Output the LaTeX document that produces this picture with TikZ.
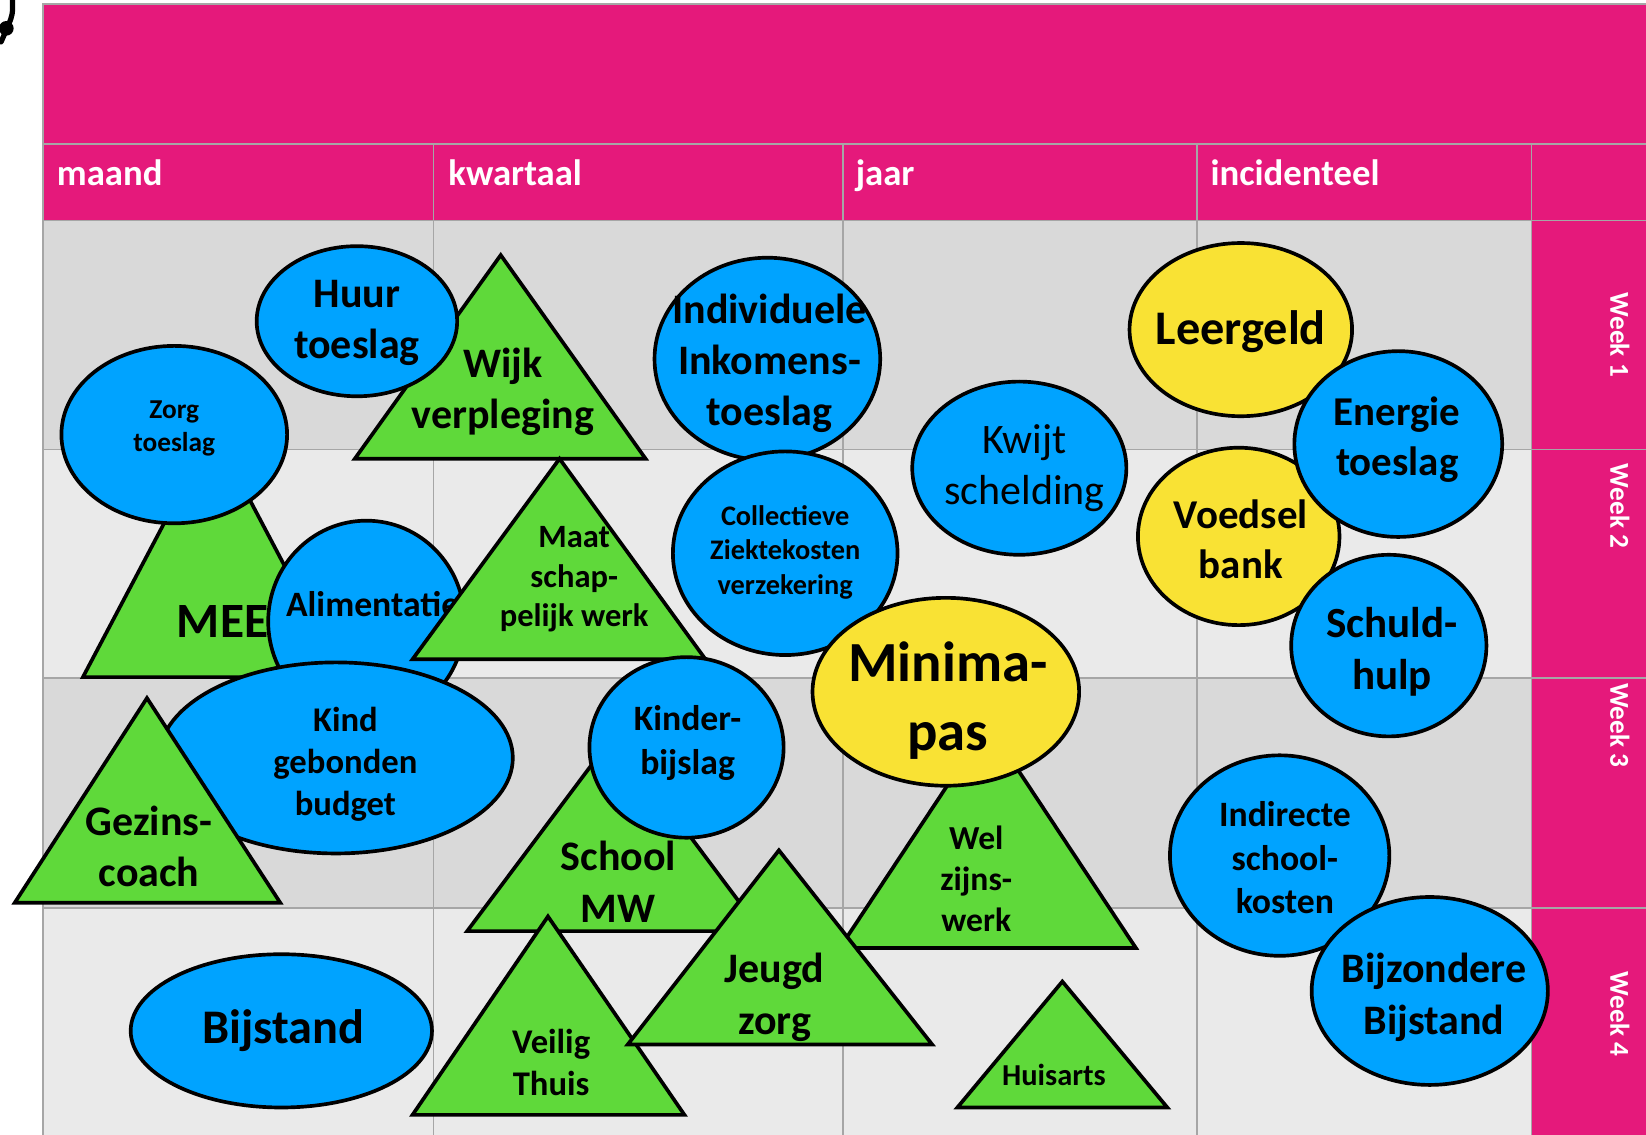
\documentclass[tikz,border=0pt]{standalone}
\usepackage{fontspec}
\setmainfont{Carlito}
\usepackage{xcolor}
\usetikzlibrary{shapes.geometric}
\definecolor{roze}{HTML}{E5197B}
\definecolor{blauw}{HTML}{00A3FF}
\definecolor{groen}{HTML}{5FD93A}
\definecolor{geel}{HTML}{F9E234}
\definecolor{lijn}{HTML}{A6A6A6}
\definecolor{donker}{HTML}{D9D9D9}
\definecolor{licht}{HTML}{EAEAEA}

\begin{document}
\begin{tikzpicture}[x=1pt, y=-1pt,
    rond/.style={ellipse, draw=black, line width=3.5pt, fill=blauw, inner sep=0pt},
    geelrond/.style={rond, fill=geel},
    drie/.style={draw=black, line width=3.5pt, fill=groen},
    lbl/.style={align=center, inner sep=0pt, font=\bfseries\fontsize{#1}{\fpeval{1.22*#1}}\selectfont},
    kop/.style={anchor=base west, inner sep=0pt, text=white, font=\bfseries\fontsize{35}{42}\selectfont},
    week/.style={rotate=-90, text=white, font=\bfseries\fontsize{26}{31}\selectfont}]
        \useasboundingbox (0,0) rectangle (1568,1081);
        % achtergrond en raster
        \fill[roze] (41,4) rectangle (1568,210);
        \fill[roze] (1459,210) rectangle (1568,1081);
        \fill[donker] (41,210) rectangle (1459,428);
        \fill[licht] (41,428) rectangle (1459,646);
        \fill[donker] (41,646) rectangle (1459,865);
        \fill[licht] (41,865) rectangle (1459,1081);
        \draw[lijn, line width=1.5pt] (41,1081) -- (41,4) -- (1568,4);
        \foreach \y in {137,210,428,646,865} \draw[lijn, line width=1.5pt] (41,\y) -- (1568,\y);
        \foreach \x in {413,803,1140,1459} \draw[lijn, line width=1.5pt] (\x,137) -- (\x,1081);
        \draw[line width=5pt, line cap=round] (12,0) .. controls (12,14) .. (8,24) -- (1,40);
        \fill (6,27) circle (7);
        % kolommen
        \node[kop] (maand) at (54,177) {maand};
        \node[kop] (kwartaal) at (427,177) {kwartaal};
        \node[kop] (jaar) at (815,177) {jaar};
        \node[kop] (incidenteel) at (1153,177) {incidenteel};
        % weken
        \node[week] (week1) at (1543,319) {Week 1};
        \node[week] (week2) at (1543,482) {Week 2};
        \node[week] (week3) at (1543,691) {Week 3};
        \node[week] (week4) at (1543,966) {Week 4};
        % maand
        \filldraw[drie] (203,410) -- (327,645) -- (79,645) -- cycle;                        % MEE
        \node[lbl=47] (mee) at (212,592) {MEE};
        \node[rond, minimum width=215, minimum height=169] (zorg) at (166,414) {};
        \node[lbl=26] (zorg-t) at (166,408) {Zorg\\toeslag};
        \filldraw[drie] (477,243) -- (615,437) -- (338,437) -- cycle;                       % Wijk verpleging
        \node[rond, minimum width=191, minimum height=143] (huur) at (340,306) {};
        \node[lbl=40] (huur-t) at (340,308) {Huur\\toeslag};
        \node[lbl=40] (wijk) at (479,373) {Wijk\\verpleging};
        \node[rond, minimum width=187, minimum height=192] (alim) at (349,592) {};
        \node[lbl=34] (alim-t) at (355,575) {Alimentatie};
        \node[rond, minimum width=337, minimum height=182] (kind) at (320,722) {};
        \node[lbl=33] (kind-t) at (329,728) {Kind\\gebonden\\budget};
        \filldraw[drie] (533,437) -- (672,628) -- (393,628) -- cycle;                       % Maatschappelijk werk
        \node[lbl=31] (maat) at (547,552) {Maat\\schap-\\pelijk werk};
        \filldraw[drie] (140,665) -- (267,860) -- (14,860) -- cycle;                        % Gezinscoach
        \node[lbl=40] (gezins) at (142,806) {Gezins-\\coach};
        \node[rond, minimum width=287, minimum height=146] (bijstand) at (268,982) {};
        \node[lbl=46] (bijstand-t) at (270,982) {Bijstand};
        % kwartaal
        \node[rond, minimum width=215, minimum height=193] (indiv) at (731,342) {};
        \node[lbl=40] (indiv-t) at (733,346) {Individuele\\Inkomens-\\toeslag};
        \node[rond, minimum width=214, minimum height=194] (zkv) at (748,527) {};
        \node[lbl=27] (zkv-t) at (748,526) {Collectieve\\Ziektekosten\\verzekering};
        \filldraw[drie] (941,690) -- (1082,903) -- (800,903) -- cycle;                      % Welzijnswerk
        \node[geelrond, minimum width=254, minimum height=179] (minima) at (901,659) {};
        \node[lbl=54] (minima-t) at (903,667) {Minima-\\pas};
        \node[lbl=32] (welzijn) at (930,837) {Wel\\zijns-\\werk};
        \filldraw[drie] (585,700) -- (725,887) -- (445,887) -- cycle;                       % School MW
        \node[lbl=40] (school) at (589,840) {School\\MW};
        \node[rond, minimum width=185, minimum height=172] (kinder) at (654,712) {};
        \node[lbl=34] (kinder-t) at (655,708) {Kinder-\\bijslag};
        \filldraw[drie] (522,873) -- (652,1062) -- (393,1062) -- cycle;                     % Veilig Thuis
        \node[lbl=33] (veilig) at (525,1012) {Veilig\\Thuis};
        \filldraw[drie] (742,810) -- (888,995) -- (598,995) -- cycle;                       % Jeugdzorg
        \node[lbl=40] (jeugd) at (738,950) {Jeugd\\zorg};
        % jaar en incidenteel
        \filldraw[drie] (1012,935) -- (1112,1055) -- (912,1055) -- cycle;                   % Huisarts
        \node[lbl=29] (huisarts) at (1004,1024) {Huisarts};
        \node[rond, minimum width=204, minimum height=165] (kwijt) at (971,446) {};
        \node[lbl=40, font=\fontsize{40}{49}\selectfont] (kwijt-t) at (976,446) {Kwijt\\schelding};
        \node[geelrond, minimum width=212, minimum height=165] (leergeld) at (1182,314) {};
        \node[lbl=46] (leergeld-t) at (1182,316) {Leergeld};
        \node[geelrond, minimum width=192, minimum height=169] (voedsel) at (1180,511) {};
        \node[lbl=39] (voedsel-t) at (1182,514) {Voedsel\\bank};
        \node[rond, minimum width=198, minimum height=177] (energie) at (1332,423) {};
        \node[lbl=39] (energie-t) at (1331,419) {Energie\\toeslag};
        \node[rond, minimum width=186, minimum height=173] (schuld) at (1323,615) {};
        \node[lbl=41] (schuld-t) at (1326,621) {Schuld-\\hulp};
        \node[rond, minimum width=209, minimum height=191] (indirect) at (1219,815) {};
        \node[lbl=34] (indirect-t) at (1224,817) {Indirecte\\school-\\kosten};
        \node[rond, minimum width=225, minimum height=179] (bijzonder) at (1362,944) {};
        \node[lbl=40] (bijzonder-t) at (1366,950) {Bijzondere\\Bijstand};
    \end{tikzpicture}
\end{document}
